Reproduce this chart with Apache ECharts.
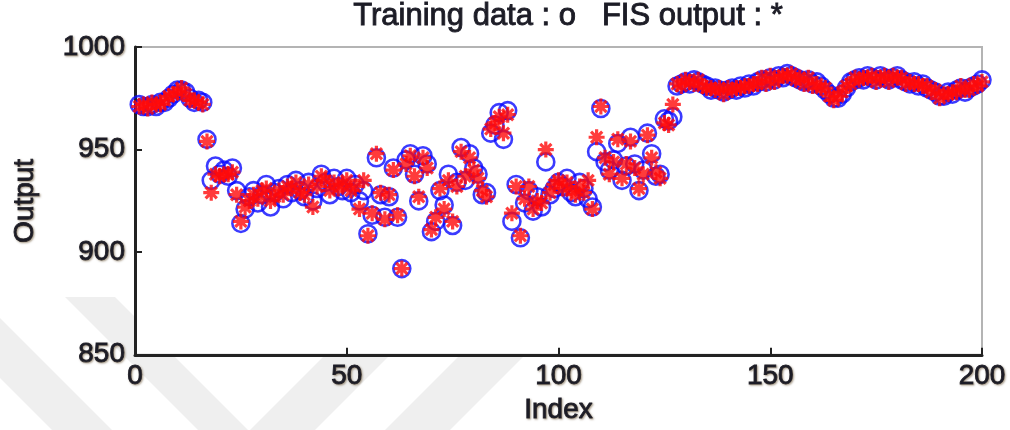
<!DOCTYPE html>
<html>
<head>
<meta charset="utf-8">
<script src="https://cdn.jsdelivr.net/npm/echarts@6/dist/echarts.min.js"></script>
<style>html,body{margin:0;padding:0;background:#fff;}#c{width:1010px;height:430px;}</style>
</head>
<body>
<div id="c"></div>
<script>
var titleText = 'Training data : o   FIS output : *';
var xName = 'Index';
var yName = 'Output';
var xTicks = [0, 50, 100, 150, 200];
var yTicks = [850, 900, 950, 1000];

// Training data (circles), index 1..200
var trainingData = [
 972,971,971,972,971,973,973,975,977,979, 979,978,975,973,974,973,955,935,942,938,
 940,937,941,930,914,921,927,930,924,928, 933,922,929,931,926,933,929,935,930,927,
 934,925,931,938,934,928,936,932,930,936, 929,933,925,930,909,918,946,928,917,927,
 941,917,892,945,948,938,925,947,943,910, 915,930,923,938,913,934,951,935,948,941,
 938,928,929,958,962,968,955,969,915,933, 907,924,930,920,927,922,944,928,931,934,
 932,936,929,927,934,931,926,922,949,970, 944,940,945,953,935,942,956,943,930,940,
 958,948,937,938,965,964,966,981,982,983, 982,984,983,982,981,979,980,979,978,979,
 980,979,981,980,982,981,983,984,983,985, 984,986,985,987,986,985,984,983,984,982,
 983,981,979,977,975,975,977,980,983,984, 985,984,986,985,984,986,985,984,985,986,
 984,983,982,983,981,982,980,979,978,976, 976,978,977,979,980,978,980,981,982,984
];

// FIS output (asterisks), index 1..200
var fisOutput = [
 971,972,970,973,972,972,974,976,977,978, 980,977,974,974,973,972,954,929,938,937,
 938,938,939,928,915,922,925,928,926,930, 931,925,927,930,928,932,931,934,929,928,
 933,922,932,937,935,930,934,931,933,935, 930,932,921,935,908,919,948,929,916,928,
 940,918,892,943,947,937,927,946,941,911, 917,931,921,935,915,932,949,937,946,940,
 936,930,927,960,963,966,958,967,919,932, 908,926,932,921,925,924,950,929,933,935,
 931,934,930,928,932,929,935,921,956,971, 946,938,944,955,936,943,954,941,931,938,
 957,946,939,936,963,962,972,982,981,984, 983,982,984,981,980,980,979,980,977,980,
 979,980,980,981,981,982,982,985,982,986, 983,985,986,986,987,984,985,982,985,981,
 982,980,980,976,974,976,978,981,982,985, 984,985,985,986,983,985,986,983,986,985,
 985,982,983,982,982,981,981,978,979,975, 977,977,978,978,981,979,979,982,981,983
];

var trainPts = trainingData.map(function (v, i) { return [i + 1, v]; });
var fisPts = fisOutput.map(function (v, i) { return [i + 1, v]; });

var textCol = '#1c1c26';
var heavy = { textBorderColor: '#1c1c26', textBorderWidth: 0.9, textShadowColor: 'rgba(110,90,60,0.5)', textShadowBlur: 2, textShadowOffsetX: 1, textShadowOffsetY: 1 };
var fontFam = '"Liberation Sans", Arial, sans-serif';

var chart = echarts.init(document.getElementById('c'), null, { renderer: 'canvas' });
var bandCol = '#efefef';
chart.setOption({
  backgroundColor: '#fff',
  animation: false,
  graphic: [
    { type: 'polygon', z: -100, shape: { points: [[0,318],[112,430],[52,430],[0,378]] }, style: { fill: bandCol } },
    { type: 'polygon', z: -100, shape: { points: [[65,297],[115,297],[248,430],[198,430]] }, style: { fill: bandCol } },
    { type: 'polygon', z: -100, shape: { points: [[250,430],[315,430],[395,350],[330,350]] }, style: { fill: bandCol } },
    { type: 'polygon', z: -100, shape: { points: [[385,430],[450,430],[530,350],[465,350]] }, style: { fill: bandCol } },
    { type: 'text', x: 568, y: 1, z: 10, style: { text: titleText, align: 'center', verticalAlign: 'top', fill: textCol, stroke: textCol, lineWidth: 0.9, font: '31px ' + fontFam, shadowColor: 'rgba(110,90,60,0.45)', shadowBlur: 2 } }
  ],
  grid: {
    left: 135, right: 28, top: 47, bottom: 75,
    show: true, backgroundColor: '#fff', borderColor: '#b4b4b4', borderWidth: 2
  },
  xAxis: {
    type: 'value', min: 0, max: 200, interval: 50,
    name: xName, nameLocation: 'middle', nameGap: 40,
    nameTextStyle: Object.assign({ color: textCol, fontSize: 28, fontFamily: fontFam }, heavy),
    axisLine: { show: true, lineStyle: { color: '#222', width: 3 } },
    axisTick: { show: true, inside: true, length: 7, lineStyle: { color: '#222', width: 2 } },
    axisLabel: Object.assign({ color: textCol, fontSize: 28, fontFamily: fontFam, margin: 8,
      formatter: function (v) { return xTicks.indexOf(v) >= 0 ? String(v) : ''; } }, heavy),
    splitLine: { show: false }
  },
  yAxis: {
    type: 'value', min: 850, max: 1000, interval: 50,
    name: yName, nameLocation: 'middle', nameGap: 96, nameRotate: 90,
    nameTextStyle: Object.assign({ color: textCol, fontSize: 28, fontFamily: fontFam }, heavy),
    axisLine: { show: true, lineStyle: { color: '#222', width: 3 } },
    axisTick: { show: true, inside: true, length: 7, lineStyle: { color: '#222', width: 2 } },
    axisLabel: Object.assign({ color: textCol, fontSize: 28, fontFamily: fontFam, margin: 10,
      formatter: function (v) { return yTicks.indexOf(v) >= 0 ? String(v) : ''; } }, heavy),
    splitLine: { show: false }
  },
  series: [
    {
      name: 'Training data', type: 'scatter', data: trainPts,
      symbol: 'circle', symbolSize: 17,
      itemStyle: { color: 'rgba(0,0,0,0)', borderColor: '#0a0aff', borderWidth: 2.6 },
      z: 2
    },
    {
      name: 'FIS output', type: 'scatter', data: fisPts,
      symbol: 'path://M0,-10L0,10M-10,0L10,0M-7,-7L7,7M-7,7L7,-7', symbolSize: 16,
      itemStyle: { color: '#ff0a0a', borderColor: '#ff0a0a', borderWidth: 3.2 },
      z: 3
    }
  ]
});
</script>
</body>
</html>
